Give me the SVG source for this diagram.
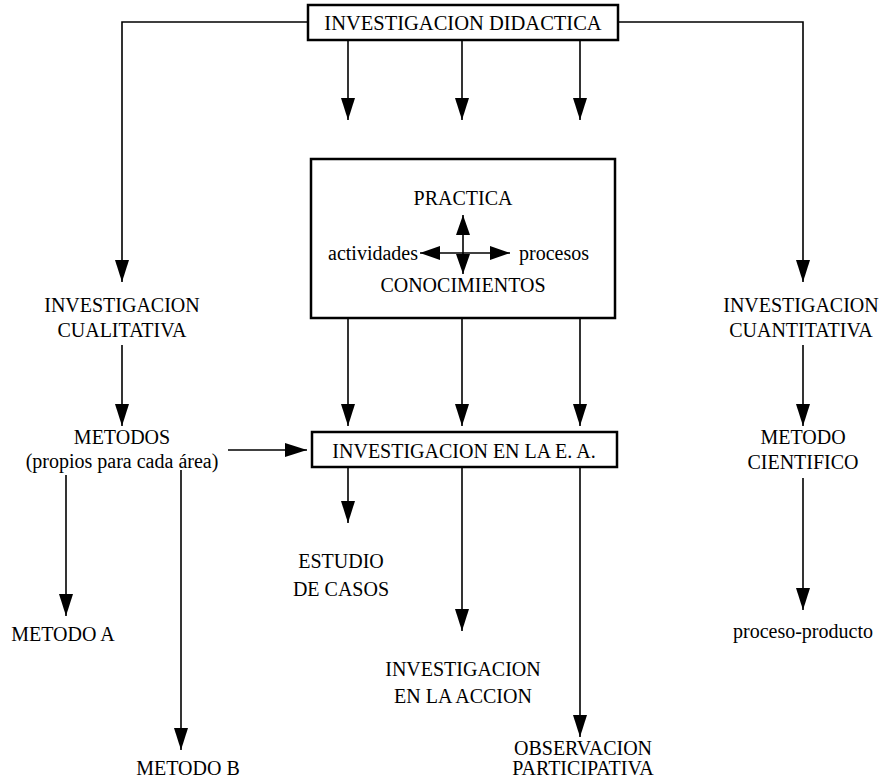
<svg xmlns="http://www.w3.org/2000/svg" width="891" height="780" viewBox="0 0 891 780">
<style>
text{font-family:"Liberation Serif","Times New Roman",serif;font-size:20px;fill:#000;text-anchor:middle}
.box{fill:#fff;stroke:#000;stroke-width:2.5}
.c{fill:none;stroke:#000;stroke-width:1.6}
</style>
<defs>
<marker id="ah" markerUnits="userSpaceOnUse" markerWidth="24" markerHeight="14" refX="22" refY="7" orient="auto">
<path d="M0,0 L22,7 L0,14 Z" fill="#000"/>
</marker>
<marker id="ahs" markerUnits="userSpaceOnUse" markerWidth="22" markerHeight="14" refX="20" refY="7" orient="auto">
<path d="M0,0 L20,7 L0,14 Z" fill="#000"/>
</marker>
</defs>
<g id="connectors">
<path class="c" d="M308,22 H122 V282" marker-end="url(#ah)"/>
<path class="c" d="M618,22 H803 V282" marker-end="url(#ah)"/>
<path class="c" d="M348,40 V120" marker-end="url(#ah)"/>
<path class="c" d="M462,40 V120" marker-end="url(#ah)"/>
<path class="c" d="M580,40 V120" marker-end="url(#ah)"/>
<path class="c" d="M348,318 V426" marker-end="url(#ah)"/>
<path class="c" d="M462,318 V426" marker-end="url(#ah)"/>
<path class="c" d="M580,318 V426" marker-end="url(#ah)"/>
<path class="c" d="M122,345 V426" marker-end="url(#ah)"/>
<path class="c" d="M228,450 H307" marker-end="url(#ah)"/>
<path class="c" d="M66,475 V616" marker-end="url(#ah)"/>
<path class="c" d="M181,470 V750" marker-end="url(#ah)"/>
<path class="c" d="M348,467 V523" marker-end="url(#ah)"/>
<path class="c" d="M462,467 V631" marker-end="url(#ah)"/>
<path class="c" d="M580,467 V737" marker-end="url(#ah)"/>
<path class="c" d="M803,345 V426" marker-end="url(#ah)"/>
<path class="c" d="M803,478 V610" marker-end="url(#ah)"/>
</g>
<g id="investigacion-didactica">
<rect class="box" x="308" y="5" width="310" height="35"/>
<text x="463" y="30" style="font-size:20.5px">INVESTIGACION DIDACTICA</text>
</g>
<g id="practica-box">
<rect class="box" x="311" y="159" width="304" height="159"/>
<text x="463" y="205">PRACTICA</text>
<text x="463" y="292">CONOCIMIENTOS</text>
<text x="373" y="260">actividades</text>
<text x="554" y="260">procesos</text>
<path class="c" d="M463,253 V215" marker-end="url(#ahs)"/>
<path class="c" d="M463,253 V274" marker-end="url(#ahs)"/>
<path class="c" d="M463,253 H420" marker-end="url(#ahs)"/>
<path class="c" d="M463,253 H510" marker-end="url(#ahs)"/>
</g>
<g id="investigacion-ea">
<rect class="box" x="312" y="432" width="305" height="35"/>
<text x="464" y="458">INVESTIGACION EN LA E. A.</text>
</g>
<g id="cualitativa">
<text x="122" y="312">INVESTIGACION</text>
<text x="122" y="337">CUALITATIVA</text>
</g>
<g id="metodos">
<text x="122" y="444">METODOS</text>
<text x="122" y="468">(propios para cada área)</text>
</g>
<g id="metodo-a"><text x="63" y="641">METODO A</text></g>
<g id="metodo-b"><text x="188" y="775">METODO B</text></g>
<g id="estudio">
<text x="341" y="568">ESTUDIO</text>
<text x="341" y="596">DE CASOS</text>
</g>
<g id="accion">
<text x="463" y="676">INVESTIGACION</text>
<text x="463" y="703">EN LA ACCION</text>
</g>
<g id="observacion">
<text x="583" y="755">OBSERVACION</text>
<text x="583" y="775">PARTICIPATIVA</text>
</g>
<g id="cuantitativa">
<text x="801" y="312">INVESTIGACION</text>
<text x="801" y="337">CUANTITATIVA</text>
</g>
<g id="metodo-cientifico">
<text x="803" y="444">METODO</text>
<text x="803" y="469">CIENTIFICO</text>
</g>
<g id="proceso-producto"><text x="803" y="638">proceso-producto</text></g>
</svg>
